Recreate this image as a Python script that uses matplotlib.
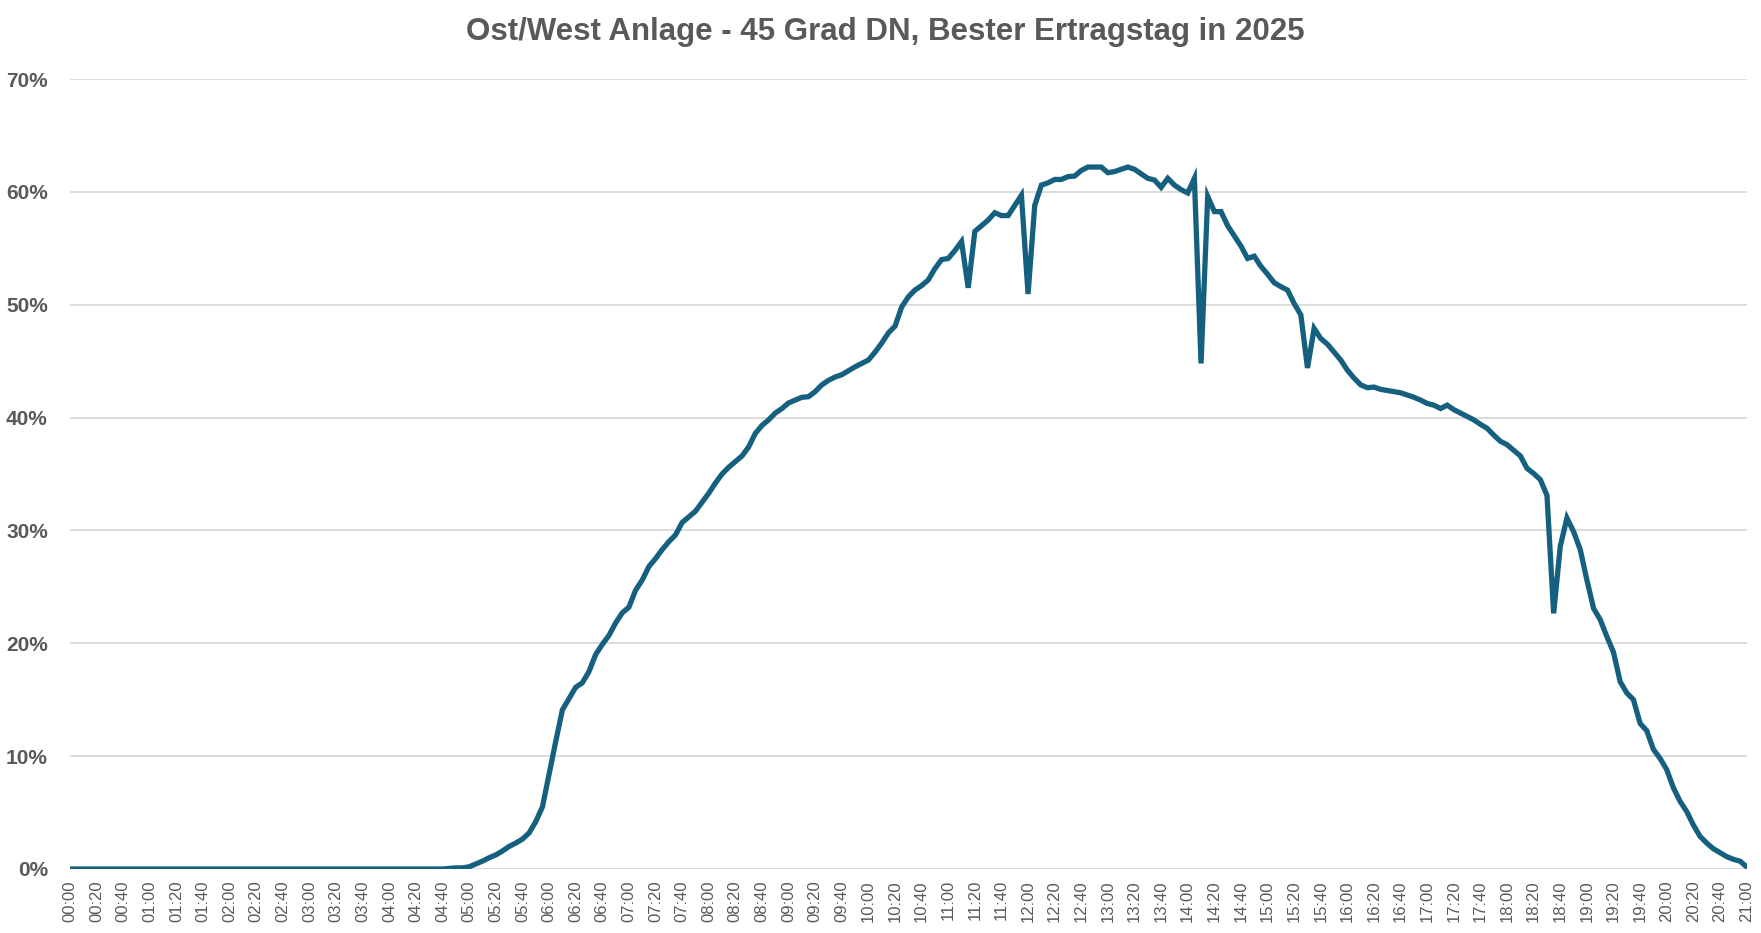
import numpy as np
import matplotlib
matplotlib.use("Agg")
import matplotlib.pyplot as plt
from matplotlib.ticker import FuncFormatter

plt.rcParams['font.family'] = ['Liberation Sans', 'DejaVu Sans']

title = "Ost/West Anlage - 45 Grad DN, Bester Ertragstag in 2025"

# Ertrag in % der Nennleistung, alle 5 Minuten ab 00:00 (eine Zeile = eine Stunde)
values = [
    0, 0, 0, 0, 0, 0, 0, 0, 0, 0, 0, 0,                                   # 00
    0, 0, 0, 0, 0, 0, 0, 0, 0, 0, 0, 0,                                   # 01
    0, 0, 0, 0, 0, 0, 0, 0, 0, 0, 0, 0,                                   # 02
    0, 0, 0, 0, 0, 0, 0, 0, 0, 0, 0, 0,                                   # 03
    0, 0, 0, 0, 0, 0, 0, 0, 0, 0.05, 0.1, 0.1,                            # 04
    0.2, 0.45, 0.7, 1.0, 1.25, 1.6, 2.0, 2.3, 2.65, 3.2, 4.2, 5.5,        # 05
    8.4, 11.3, 14.1, 15.1, 16.1, 16.5, 17.5, 19.0, 19.9, 20.7, 21.8, 22.7,  # 06
    23.2, 24.7, 25.6, 26.8, 27.5, 28.3, 29.0, 29.6, 30.7, 31.2, 31.7, 32.5,  # 07
    33.3, 34.2, 35.0, 35.6, 36.1, 36.6, 37.4, 38.6, 39.3, 39.8, 40.4, 40.8,  # 08
    41.3, 41.55, 41.8, 41.85, 42.3, 42.9, 43.3, 43.6, 43.8, 44.15, 44.5, 44.8,  # 09
    45.1, 45.8, 46.6, 47.5, 48.1, 49.8, 50.7, 51.3, 51.7, 52.2, 53.2, 54.0,  # 10
    54.1, 54.8, 55.6, 51.5, 56.5, 57.0, 57.5, 58.15, 57.9, 57.9, 58.8, 59.7,  # 11
    50.95, 58.8, 60.6, 60.8, 61.1, 61.1, 61.35, 61.4, 61.9, 62.2, 62.2, 62.2,  # 12
    61.7, 61.8, 62.0, 62.2, 62.0, 61.6, 61.2, 61.05, 60.4, 61.2, 60.6, 60.2,  # 13
    59.9, 61.2, 44.8, 59.6, 58.25, 58.25, 57.0, 56.1, 55.2, 54.1, 54.3, 53.4,  # 14
    52.7, 51.95, 51.6, 51.3, 50.1, 49.1, 44.4, 47.9, 47.0, 46.5, 45.8, 45.1,  # 15
    44.2, 43.5, 42.9, 42.65, 42.7, 42.5, 42.4, 42.3, 42.2, 42.0, 41.8, 41.55,  # 16
    41.25, 41.1, 40.8, 41.1, 40.7, 40.4, 40.1, 39.8, 39.4, 39.05, 38.45, 37.9,  # 17
    37.6, 37.1, 36.6, 35.5, 35.05, 34.5, 33.1, 22.65, 28.6, 31.1, 29.9, 28.3,  # 18
    25.6, 23.1, 22.1, 20.6, 19.2, 16.6, 15.6, 15.0, 12.9, 12.25, 10.6, 9.8,  # 19
    8.8, 7.2, 6.0, 5.1, 3.9, 2.9, 2.3, 1.8, 1.45, 1.1, 0.86, 0.7,        # 20
    0.2,                                                                  # 21
]

minutes = np.arange(len(values)) * 5
tick_minutes = np.arange(0, 21 * 60 + 1, 20)
tick_labels = [f"{m // 60:02d}:{m % 60:02d}" for m in tick_minutes]

grey = "#595959"
line_color = "#16607F"

fig = plt.figure(figsize=(17.61, 9.33), dpi=100)
ax = fig.add_axes([0.0398, 0.0686, 0.952, 0.8467])

ax.plot(minutes, np.array(values) / 100, color=line_color, linewidth=3.8,
        solid_joinstyle='miter', zorder=3)

ax.set_xlim(0, 21 * 60)
ax.set_ylim(0, 0.70)
ax.set_yticks(np.arange(0, 0.71, 0.10))
ax.yaxis.set_major_formatter(FuncFormatter(lambda v, p: f"{v * 100:.0f}%"))
ax.set_xticks(tick_minutes)
ax.set_xticklabels(tick_labels, rotation=90)

ax.grid(axis='y', color='#D9D9D9', linewidth=1.3, zorder=0)
ax.grid(axis='x', visible=False)
for s in ax.spines.values():
    s.set_visible(False)

ax.tick_params(axis='both', length=0)
ax.tick_params(axis='y', labelsize=15, labelcolor=grey, pad=16)
ax.tick_params(axis='x', labelsize=12, labelcolor=grey, pad=8)
for lbl in ax.get_yticklabels():
    lbl.set_fontweight('bold')

fig.text(0.503, 0.966, title, ha='center', va='center', fontsize=22.5,
         fontweight='bold', color=grey)

fig.savefig("out.png", dpi=100)
